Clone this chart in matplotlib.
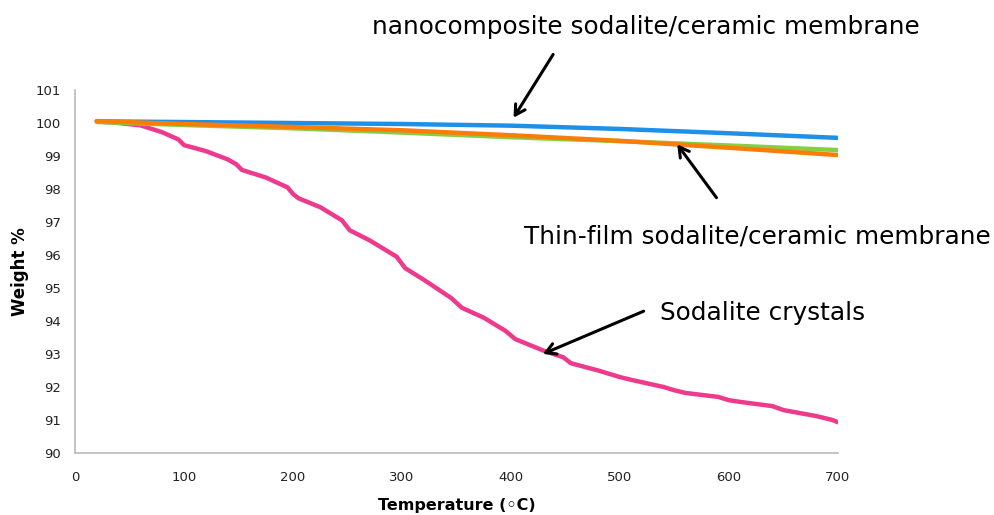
import matplotlib
matplotlib.use("Agg")
import matplotlib.pyplot as plt

# TGA curves
temp_blue = [20, 100, 200, 300, 400, 500, 600, 700]
weight_blue = [100.05, 100.03, 100.0, 99.97, 99.92, 99.82, 99.69, 99.55]

temp_orange = [20, 100, 200, 300, 400, 500, 600, 700]
weight_orange = [100.06, 99.97, 99.88, 99.78, 99.63, 99.46, 99.25, 99.03]

temp_green = [20, 100, 200, 300, 400, 500, 600, 700]
weight_green = [100.03, 99.94, 99.84, 99.71, 99.57, 99.45, 99.32, 99.18]

temp_pink = [20, 40, 60, 80, 95, 100, 120, 140, 148, 153, 175, 195, 200, 205,
             225, 245, 252, 270, 295, 303, 320, 345, 355, 375, 395, 404, 430,
             448, 455, 480, 500, 510, 540, 550, 560, 590, 600, 610, 640, 650,
             680, 695, 700]
weight_pink = [100.05, 100.0, 99.93, 99.72, 99.5, 99.33, 99.15, 98.9, 98.75,
               98.58, 98.35, 98.05, 97.85, 97.72, 97.45, 97.05, 96.75, 96.45,
               95.95, 95.6, 95.25, 94.7, 94.4, 94.1, 93.7, 93.45, 93.1, 92.9,
               92.72, 92.5, 92.3, 92.22, 92.0, 91.9, 91.82, 91.7, 91.6, 91.55,
               91.42, 91.3, 91.12, 91.0, 90.93]

x_ticks = [0, 100, 200, 300, 400, 500, 600, 700]
y_ticks = list(range(90, 102))

fig = plt.figure(figsize=(9.95, 5.15), dpi=100)
ax = fig.add_axes([0.0754, 0.1204, 0.7668, 0.7048])

lw = 3.2
ax.plot(temp_pink, weight_pink, color="#EE3A8C", lw=lw, solid_capstyle="round")
ax.plot(temp_blue, weight_blue, color="#1E90E8", lw=lw, solid_capstyle="round")
ax.plot(temp_green, weight_green, color="#86CF45", lw=lw, solid_capstyle="round")
ax.plot(temp_orange, weight_orange, color="#FA7D0A", lw=lw, solid_capstyle="round")

ax.set_xlim(0, 700)
ax.set_ylim(90, 101)
ax.set_xticks(x_ticks)
ax.set_yticks(y_ticks)
ax.tick_params(length=0, labelsize=9.5, colors="#222222")
ax.tick_params(axis="x", pad=13)
ax.tick_params(axis="y", pad=10)
for side in ["top", "right"]:
    ax.spines[side].set_visible(False)
for side in ["left", "bottom"]:
    ax.spines[side].set_color("#BFBFBF")
    ax.spines[side].set_linewidth(1.3)

ax.set_xlabel("Temperature (\u25e6C)", fontsize=11.5, fontweight="bold", labelpad=10)
ax.set_ylabel("Weight %", fontsize=12, fontweight="bold", labelpad=5)

# annotations
arrow = dict(arrowstyle="->,head_length=0.7,head_width=0.4", color="black", lw=2.2)
ax.annotate("", xy=(401, 100.09), xytext=(440, 102.15), arrowprops=arrow,
            annotation_clip=False)
ax.annotate("", xy=(551, 99.42), xytext=(590, 97.67), arrowprops=arrow,
            annotation_clip=False)
ax.annotate("", xy=(427, 92.97), xytext=(524, 94.33), arrowprops=arrow,
            annotation_clip=False)

ax.text(524, 102.9, "nanocomposite sodalite/ceramic membrane", fontsize=17.8,
        ha="center", va="center", clip_on=False)
ax.text(626, 96.55, "Thin-film sodalite/ceramic membrane", fontsize=17.8,
        ha="center", va="center", clip_on=False)
ax.text(537, 94.24, "Sodalite crystals", fontsize=17.8,
        ha="left", va="center", clip_on=False)

fig.savefig("out.png", dpi=100)
